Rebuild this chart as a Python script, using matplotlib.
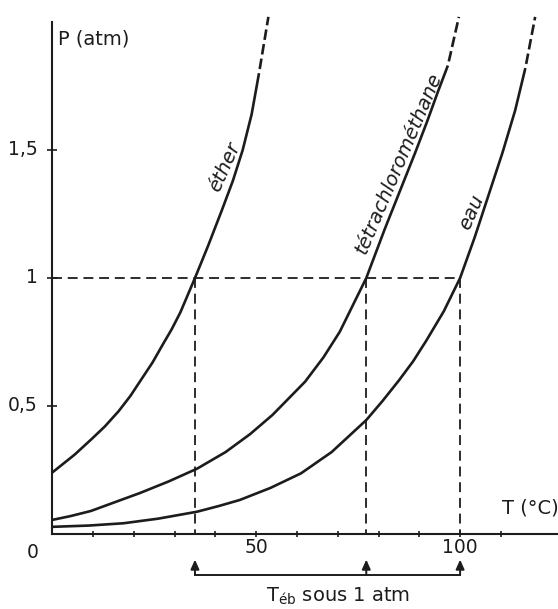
import numpy as np
import matplotlib.pyplot as plt
from matplotlib.transforms import ScaledTranslation

# --------------------
# Courbes de pression de vapeur
# --------------------

# Ether
T_ether = [0, 5.5, 9.6, 12.9, 16.3, 19.2, 22.1, 24.6, 27.1, 29.3, 31.4, 33.0, 35.0,
           38.2, 41.6, 44.3, 46.7, 48.9, 50.7]
P_ether = [0.24, 0.31, 0.37, 0.42, 0.48, 0.54, 0.61, 0.67, 0.74, 0.80, 0.865, 0.925, 1.0,
           1.125, 1.265, 1.38, 1.50, 1.64, 1.80]
T_ether_fin = [50.7, 53.0]      # prolongement en tirets
P_ether_fin = [1.80, 2.02]

# Tetrachloromethane
T_ccl4 = [0, 4.5, 9.5, 15.5, 21.5, 28.5, 35.5, 42.5, 48.5, 54, 62, 66.5, 70.5, 77,
          81.5, 86, 89, 92, 94.5, 97]
P_ccl4 = [0.055, 0.07, 0.09, 0.125, 0.16, 0.205, 0.255, 0.32, 0.39, 0.465, 0.595, 0.69,
          0.79, 1.0, 1.19, 1.37, 1.49, 1.615, 1.725, 1.83]
T_ccl4_fin = [97, 99.7]
P_ccl4_fin = [1.83, 2.02]

# Eau
T_eau = [0, 9, 17.5, 26, 35.5, 41, 46, 53.5, 61, 68.5, 77, 81, 85, 88.5, 91.7, 96, 100,
         103.6, 107, 110.4, 113.5, 116]
P_eau = [0.028, 0.033, 0.042, 0.06, 0.087, 0.11, 0.133, 0.18, 0.237, 0.32, 0.445, 0.52,
         0.60, 0.675, 0.755, 0.87, 1.0, 1.16, 1.325, 1.49, 1.655, 1.82]
T_eau_fin = [116, 118.4]
P_eau_fin = [1.82, 2.02]

# Temperatures d'ebullition sous 1 atm
T_eb = [35, 77, 100]
P_ref = 1.0

# Graduations
x_ticks = [10, 20, 30, 40, 50, 60, 70, 80, 90, 100, 110]
x_tick_labels = ['', '', '', '', '50', '', '', '', '', '100', '']
y_ticks = [0.5, 1.0, 1.5]
y_tick_labels = ['0,5', '1', '1,5']

ink = '#1c1c1c'

# --------------------
# Trace
# --------------------
fig = plt.figure(figsize=(5.58, 6.09), dpi=100)
ax = fig.add_axes([52.2 / 558, 75 / 609, 505.8 / 558, 512 / 609])
ax.set_xlim(0, 124)
ax.set_ylim(0, 2.0)

ax.spines['top'].set_visible(False)
ax.spines['right'].set_visible(False)
ax.spines['left'].set_linewidth(1.5)
ax.spines['bottom'].set_linewidth(1.5)
ax.spines['left'].set_color(ink)
ax.spines['bottom'].set_color(ink)

ax.set_xticks(x_ticks)
ax.set_xticklabels(x_tick_labels)
ax.tick_params(axis='x', direction='inout', length=5, width=1.2, pad=0.5,
               labelsize=13.5, colors=ink)
ax.set_yticks(y_ticks)
ax.set_yticklabels(y_tick_labels)
ax.tick_params(axis='y', direction='inout', length=7, width=1.2, pad=7,
               labelsize=13.5, colors=ink)
for lab in ax.get_yticklabels():
    lab.set_transform(lab.get_transform() + ScaledTranslation(0, 2 / 72, fig.dpi_scale_trans))

# Courbes
courbes = [
    (T_ether, P_ether, T_ether_fin, P_ether_fin),
    (T_ccl4, P_ccl4, T_ccl4_fin, P_ccl4_fin),
    (T_eau, P_eau, T_eau_fin, P_eau_fin),
]
for T, P, Tf, Pf in courbes:
    ax.plot(T, P, color=ink, lw=1.9, solid_capstyle='butt', solid_joinstyle='round')
    ax.plot(Tf, Pf, color=ink, lw=1.9, linestyle=(4, (4, 1.6)), clip_on=False)

# Tirets de lecture a 1 atm
ax.plot([0, T_eb[-1]], [P_ref, P_ref], color=ink, lw=1.3, linestyle=(0, (5.5, 3.2)))
for t in T_eb:
    ax.plot([t, t], [P_ref, 0], color=ink, lw=1.3, linestyle=(0, (5.5, 3.2)))

# Noms des courbes
kw = dict(style='italic', fontsize=14, color=ink, ha='center', va='center',
          rotation_mode='anchor')
ax.text(42.2, 1.435, 'éther', rotation=66, **kw)
ax.text(84.9, 1.45, 'tétrachlorométhane', rotation=67, **kw)
ax.text(102.8, 1.256, 'eau', rotation=66, **kw)

# Titres des axes
ax.text(1.5, 1.934, 'P (atm)', fontsize=14, color=ink, ha='left', va='center')
ax.text(110.3, 0.1, 'T (°C)', fontsize=14, color=ink, ha='left', va='center',
        clip_on=False)
ax.text(-4.7, -0.074, '0', fontsize=13.5, color=ink, ha='center', va='center',
        clip_on=False)

# Accolade sous l'axe : T eb sous 1 atm
y_base = -0.16
y_tip = -0.1
ax.plot([T_eb[0], T_eb[-1]], [y_base, y_base], color=ink, lw=1.4, clip_on=False)
for t in T_eb:
    ax.annotate('', xy=(t, y_tip), xytext=(t, y_base), annotation_clip=False,
                arrowprops=dict(arrowstyle='-|>,head_length=0.4,head_width=0.18',
                                mutation_scale=14, color=ink, lw=1.4,
                                shrinkA=0, shrinkB=0))
ax.text(70.2, -0.264, r'$\mathregular{T_{éb}}$ sous 1 atm', fontsize=14, color=ink,
        ha='center', va='baseline', clip_on=False)

fig.savefig('out.png', dpi=100)
